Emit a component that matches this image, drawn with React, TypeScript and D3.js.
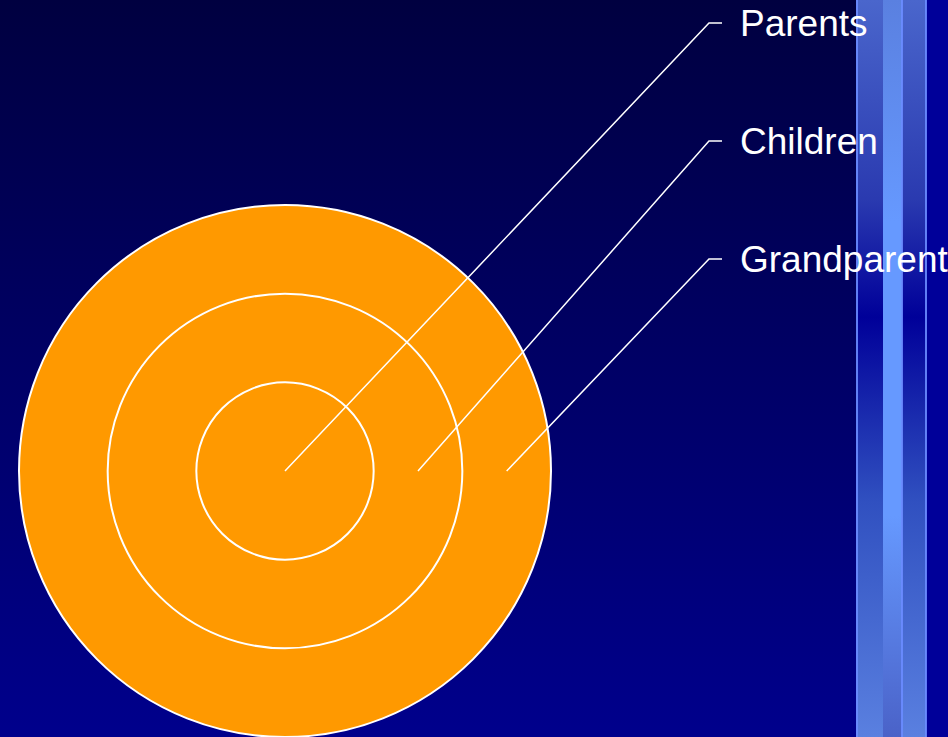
import { useRef, useEffect } from 'react'
import * as d3 from 'd3'

// rings from inside out, and where each leader line starts (in ring units)
const labels = ['Parents', 'Children', 'Grandparent']
const ringSteps = [1, 2, 3]
const anchorSteps = [0, 1.5, 2.5]

const W = 948
const H = 737

const App = () => {
  const ref = useRef<SVGSVGElement>(null)

  useEffect(() => {
    const svg = d3.select(ref.current)
    svg.selectAll('*').remove()

    const defs = svg.append('defs')

    // BACKGROUND GRADIENTS
    const bg = defs.append('linearGradient').attr('id', 'bg')
      .attr('x1', 0).attr('y1', 0).attr('x2', 0).attr('y2', 1)
    bg.append('stop').attr('offset', 0).attr('stop-color', '#000040')
    bg.append('stop').attr('offset', 1).attr('stop-color', '#00008c')

    const side = defs.append('linearGradient').attr('id', 'side')
      .attr('x1', 0).attr('y1', 0).attr('x2', 0).attr('y2', 1)
    side.append('stop').attr('offset', 0).attr('stop-color', '#4a66cc')
    side.append('stop').attr('offset', 0.27).attr('stop-color', '#2a3ab0')
    side.append('stop').attr('offset', 0.43).attr('stop-color', '#000099')
    side.append('stop').attr('offset', 0.68).attr('stop-color', '#3050c0')
    side.append('stop').attr('offset', 1).attr('stop-color', '#5a80e0')

    const mid = defs.append('linearGradient').attr('id', 'mid')
      .attr('x1', 0).attr('y1', 0).attr('x2', 0).attr('y2', 1)
    mid.append('stop').attr('offset', 0).attr('stop-color', '#5a80e0')
    mid.append('stop').attr('offset', 0.3).attr('stop-color', '#6699ff')
    mid.append('stop').attr('offset', 0.7).attr('stop-color', '#6699ff')
    mid.append('stop').attr('offset', 1).attr('stop-color', '#4a62c8')

    svg.append('rect').attr('width', W).attr('height', H).attr('fill', 'url(#bg)')

    // decorative stripes on the right
    svg.append('rect').attr('x', 926).attr('width', W - 926).attr('height', H).attr('fill', '#000099')
    svg.append('rect').attr('x', 856).attr('width', 27).attr('height', H).attr('fill', 'url(#side)')
    svg.append('rect').attr('x', 883).attr('width', 19).attr('height', H).attr('fill', 'url(#mid)')
    svg.append('rect').attr('x', 902).attr('width', 24).attr('height', H).attr('fill', 'url(#side)')
    ;[857, 902, 926].forEach(x => {
      svg.append('rect').attr('x', x - 1).attr('width', 2).attr('height', H)
        .attr('fill', '#6a8cff').attr('opacity', 0.9)
    })

    // TARGET RINGS
    const cx = 285, cy = 471
    const r = d3.scaleLinear().domain([0, 3]).range([0, 266])

    svg.append('g')
      .selectAll('circle')
      .data([...ringSteps].reverse())
      .enter()
      .append('circle')
        .attr('cx', cx)
        .attr('cy', cy)
        .attr('r', d => r(d))
        .attr('fill', '#ff9900')
        .attr('stroke', '#ffffff')
        .attr('stroke-width', 2)

    // LEADER LINES + LABELS
    const y = d3.scalePoint<string>().domain(labels).range([23, 259])
    const kneeX = 709, endX = 722

    const g = svg.append('g')
    labels.forEach((name, i) => {
      const x0 = cx + r(anchorSteps[i])
      const ky = y(name) as number
      g.append('path')
        .attr('d', d3.line()([[x0, cy], [kneeX, ky], [endX, ky]]))
        .attr('fill', 'none')
        .attr('stroke', '#ffffff')
        .attr('stroke-width', 1.5)
      g.append('text')
        .attr('x', 740)
        .attr('y', ky + 13)
        .attr('fill', '#ffffff')
        .attr('font-family', '"Liberation Sans", Arial, sans-serif')
        .attr('font-size', 37)
        .text(name)
    })
  }, [])

  return (
    <svg ref={ref} width={W} height={H}
      style={{ position: 'absolute', left: 0, top: 0, display: 'block' }} />
  )
}

export default App
